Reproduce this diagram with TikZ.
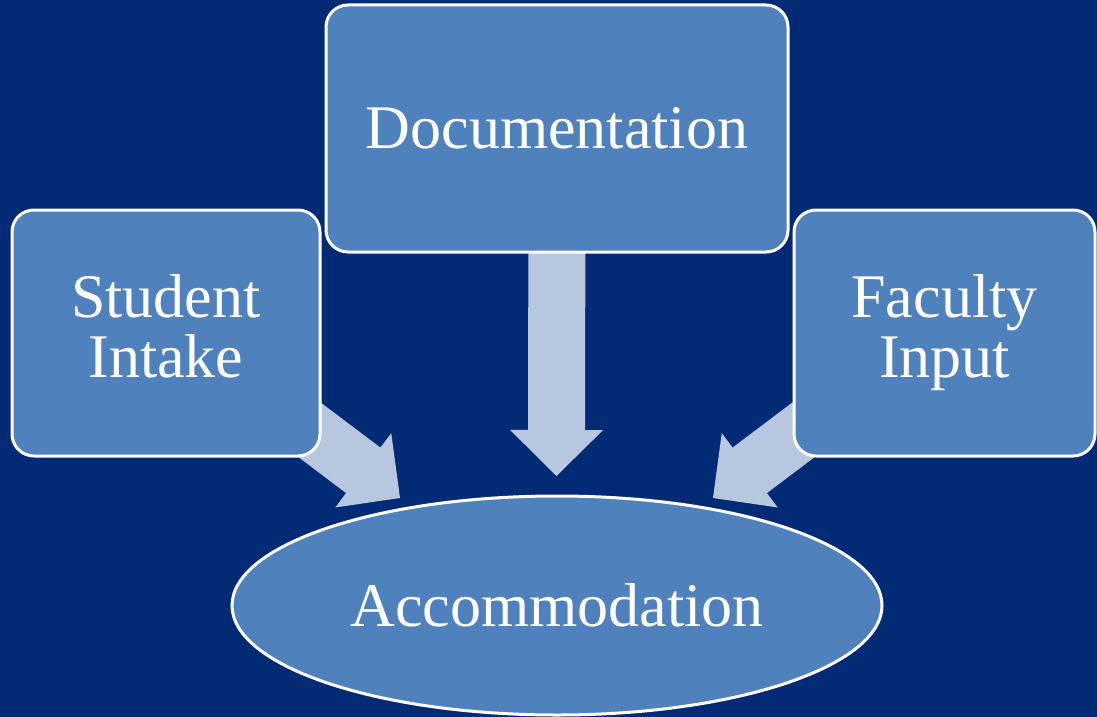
\documentclass[tikz,border=0pt]{standalone}
\usepackage{fontspec}
\setmainfont{Liberation Serif}
\usetikzlibrary{calc,shapes.geometric}
\definecolor{bgblue}{RGB}{3,43,117}
\definecolor{boxblue}{HTML}{4F81BD}
\definecolor{arrowblue}{HTML}{B8C7E0}
\pgfdeclarelayer{bglayer}
\pgfdeclarelayer{arrowlayer}
\pgfsetlayers{bglayer,arrowlayer,main}
\tikzset{
  box/.style={draw=white, line width=3pt, fill=boxblue, rounded corners=22pt,
    text=white, align=center, inner sep=0pt,
    font=\fontsize{62}{60}\selectfont},
  oval/.style={ellipse, draw=white, line width=3pt, fill=boxblue,
    text=white, inner sep=0pt, font=\fontsize{62}{60}\selectfont},
  arrowfill/.style={fill=arrowblue}
}
\newcommand\blockarr[2]{%
  \path ($(#2)!46pt!(#1)$) coordinate (hb);
  \fill[arrowfill] ($(#1)!28.5pt!90:(#2)$) -- ($(hb)!28.5pt!90:(#2)$)
    -- ($(hb)!46.5pt!90:(#2)$) -- (#2) -- ($(hb)!46.5pt!-90:(#2)$)
    -- ($(hb)!28.5pt!-90:(#2)$) -- ($(#1)!28.5pt!-90:(#2)$) -- cycle;}
\begin{document}
\begin{tikzpicture}[x=1pt,y=-1pt]
\useasboundingbox (0,0) rectangle (1097,717);
\begin{pgfonlayer}{bglayer}
\fill[bgblue] (0,0) rectangle (1097,717);
\end{pgfonlayer}
\clip (0,0) rectangle (1097,717);
% nodes
\node[box, minimum width=462pt, minimum height=247pt] (doc) at (557,128.5) {Documentation};
\node[box, minimum width=308pt, minimum height=246pt] (student) at (166,333) {Student\\Intake\vphantom{p}};
\node[box, minimum width=301pt, minimum height=246pt] (faculty) at (944.5,333) {Faculty\\Input};
\node[oval, minimum width=650pt, minimum height=219pt] (acc) at (557,605.5) {Accommodation};
% arrow anchors
\coordinate (tipD) at (556.5,476);
\coordinate (tipL) at (400,498);
\coordinate (tipR) at (713,498);
\coordinate (srcL) at (200.4,347.6);
\coordinate (srcR) at (912.6,347.6);
\begin{pgfonlayer}{arrowlayer}
\blockarr{doc.center}{tipD}
\blockarr{srcL}{tipL}
\blockarr{srcR}{tipR}
\end{pgfonlayer}
\end{tikzpicture}
\end{document}
